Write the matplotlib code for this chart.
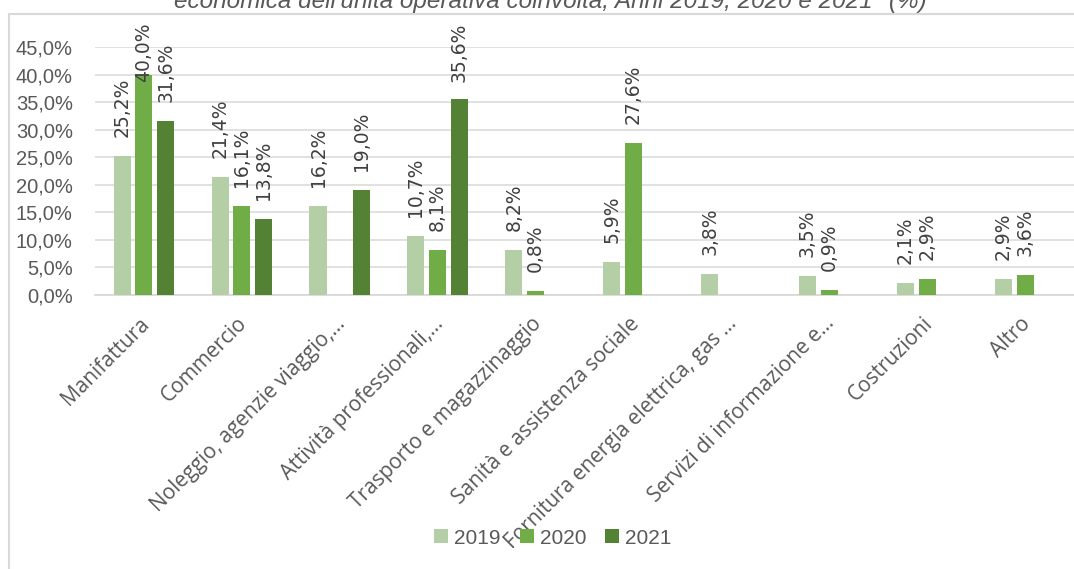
import numpy as np
import matplotlib
matplotlib.use("Agg")
import matplotlib.pyplot as plt
import matplotlib.transforms as mtransforms
from matplotlib.lines import Line2D
from matplotlib.ticker import FuncFormatter

# Settori economici e quote percentuali per anno (nan = valore assente)
categories = [
    "Manifattura",
    "Commercio",
    "Noleggio, agenzie viaggio,…",
    "Attività professionali,…",
    "Trasporto e magazzinaggio",
    "Sanità e assistenza sociale",
    "Fornitura energia elettrica, gas …",
    "Servizi di informazione e…",
    "Costruzioni",
    "Altro",
]
years = ["2019", "2020", "2021"]
v2019 = [25.2, 21.4, 16.2, 10.7, 8.2, 5.9, 3.8, 3.5, 2.1, 2.9]
v2020 = [40.0, 16.1, np.nan, 8.1, 0.8, 27.6, np.nan, 0.9, 2.9, 3.6]
v2021 = [31.6, 13.8, 19.0, 35.6, np.nan, np.nan, np.nan, np.nan, np.nan, np.nan]
y_ticks = [0, 5, 10, 15, 20, 25, 30, 35, 40, 45]

title = "economica dell'unità operativa coinvolta, Anni 2019, 2020 e 2021* (%)"

colors = ["#B4CEA6", "#70AD47", "#548235"]
grid_col = "#D9D9D9"
text_col = "#595959"
label_col = "#404040"

fig = plt.figure(figsize=(10.74, 5.69), dpi=100)
ax = fig.add_axes([95 / 1074, 1 - 295 / 569, 1 - 95 / 1074, (295 - 47) / 569])

x = np.arange(len(categories))
offsets = [-0.222, 0.0, 0.222]
width = 0.174
series = [v2019, v2020, v2021]

value_labels = []
for vals, off, col, yr in zip(series, offsets, colors, years):
    vals = np.array(vals, dtype=float)
    ok = ~np.isnan(vals)
    ax.bar(x[ok] + off, vals[ok], width=width, color=col, label=yr, zorder=3)
    for xi, v in zip(x[ok] + off, vals[ok]):
        ann = ax.annotate(f"{v:.1f}%".replace(".", ","), xy=(xi, v), xytext=(0, 19),
                          textcoords="offset pixels", rotation=90, ha="center",
                          va="bottom", fontsize=13.5, family="DejaVu Sans",
                          color=label_col, annotation_clip=False, zorder=4)
        value_labels.append(ann)

ax.set_xlim(-0.5, len(categories) - 0.5)
ax.set_ylim(0, 45)
ax.set_yticks(y_ticks)
ax.yaxis.set_major_formatter(FuncFormatter(lambda v, p: f"{v:.1f}%".replace(".", ",")))
ax.grid(axis="y", color=grid_col, linewidth=1.1, zorder=0)
ax.set_axisbelow(True)
for s in ["top", "right", "left"]:
    ax.spines[s].set_visible(False)
ax.spines["bottom"].set_color(grid_col)
ax.spines["bottom"].set_linewidth(1.3)

ax.tick_params(axis="y", length=0, pad=16, labelsize=14.5, labelcolor=text_col)
for t in ax.get_yticklabels():
    t.set_family("Liberation Sans")

ax.set_xticks(x)
ax.set_xticklabels(categories, rotation=45, ha="right", va="top",
                   rotation_mode="anchor", fontsize=15, family="Open Sans",
                   color=text_col)
ax.tick_params(axis="x", length=0, pad=13)
shift = mtransforms.ScaledTranslation(-5 / 100, 0, fig.dpi_scale_trans)
for t in ax.get_xticklabels():
    t.set_transform(t.get_transform() + shift)

leg = ax.legend(loc="center", bbox_to_anchor=(553 / 1074, 1 - 538 / 569),
                bbox_transform=fig.transFigure, ncol=3, frameon=False,
                prop={"family": "Liberation Sans", "size": 15},
                handlelength=0.67, handleheight=0.67, handletextpad=0.3,
                columnspacing=0.9, borderpad=0)
for t in leg.get_texts():
    t.set_color(text_col)
leg.set_zorder(10)

# cornice dell'area grafico
fig.add_artist(Line2D([9 / 1074, 9 / 1074], [0, 1 - 14 / 569],
                      transform=fig.transFigure, color=grid_col, linewidth=1.5))
fig.add_artist(Line2D([9 / 1074, 1], [1 - 14 / 569, 1 - 14 / 569],
                      transform=fig.transFigure, color=grid_col, linewidth=1.5))

fig.text(550 / 1074, 1 - 8 / 569, title, ha="center", va="baseline",
         fontsize=17.5, style="italic", family="Liberation Sans", color=text_col)

# le etichette troppo alte vengono abbassate dentro l'area del grafico
fig.canvas.draw()
renderer = fig.canvas.get_renderer()
top_limit = fig.bbox.height - 23
for ann in value_labels:
    bb = ann.get_window_extent(renderer)
    if bb.y1 > top_limit:
        dx, dy = ann.xyann
        ann.xyann = (dx, dy - (bb.y1 - top_limit))

fig.savefig("out.png", dpi=100)
